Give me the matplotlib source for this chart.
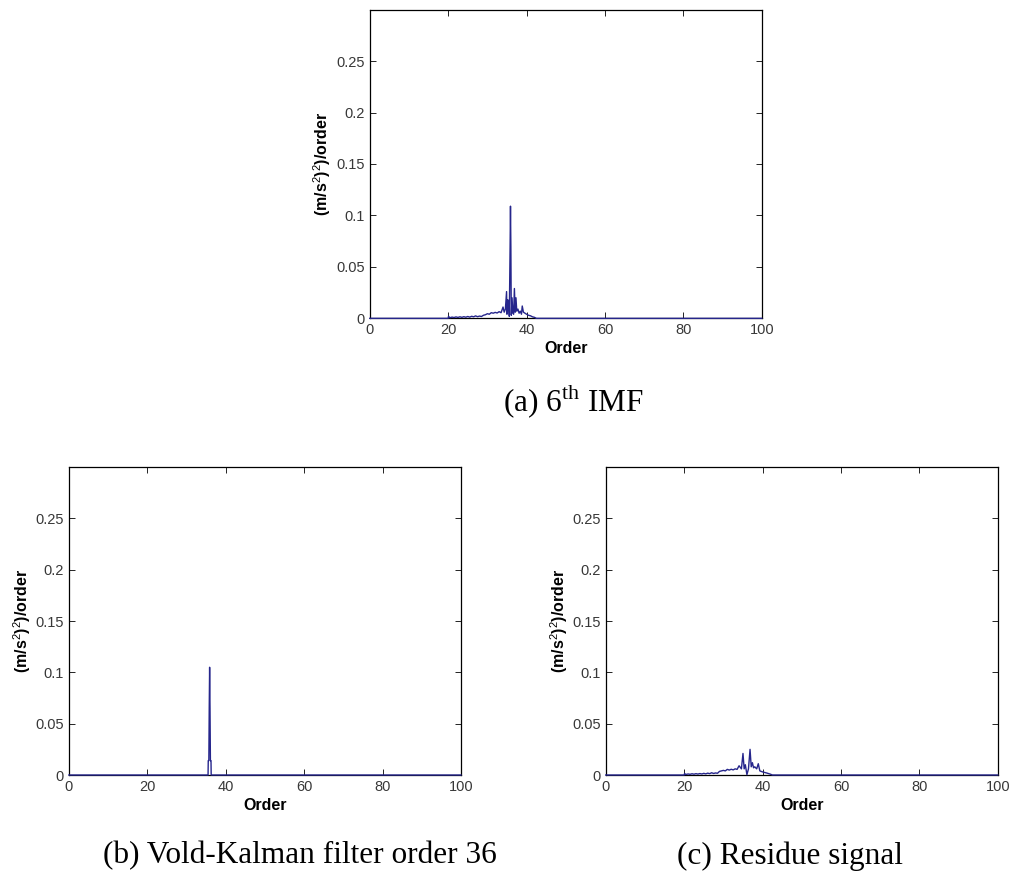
import numpy as np
import matplotlib
matplotlib.use("Agg")
from matplotlib import pyplot as plt

plt.rcParams['mathtext.fontset'] = 'custom'
plt.rcParams['mathtext.rm'] = 'Liberation Serif'
plt.rcParams['mathtext.sf'] = 'Liberation Sans'

# 6th IMF order spectrum
imf_order = [0, 20, 20.1, 20.4, 21, 21.5, 22, 22.5, 23, 23.5, 24, 24.5, 25, 25.5, 26, 26.5,
             27, 27.5, 28, 28.5, 29, 29.5, 30, 30.5, 31, 31.5, 32, 32.5, 33, 33.5, 34, 34.3,
             34.6, 34.9, 35.0, 35.2, 35.4, 35.6, 35.8, 35.9, 36.0, 36.1, 36.3, 36.5, 36.7, 36.9,
             37.1, 37.3, 37.5, 37.8, 38.1, 38.4, 38.7, 38.9, 39.2, 39.6, 40, 40.5, 41, 41.5,
             42, 42.5, 100]
imf_val = [0, 0, 0.002, 0.0006, 0.0012, 0.0008, 0.0014, 0.0009, 0.0015, 0.001, 0.0016, 0.0011,
           0.0018, 0.0012, 0.002, 0.0015, 0.0024, 0.0016, 0.0022, 0.0018, 0.003, 0.0035, 0.0045,
           0.004, 0.0055, 0.005, 0.0058, 0.0052, 0.0065, 0.0055, 0.011, 0.006, 0.009, 0.026,
           0.004, 0.018, 0.017, 0.002, 0.069, 0.109, 0.069, 0.003, 0.02, 0.005, 0.004, 0.029,
           0.006, 0.02, 0.007, 0.009, 0.005, 0.007, 0.004, 0.012, 0.006, 0.005, 0.004, 0.003,
           0.0025, 0.0015, 0.001, 0, 0]

# Vold-Kalman filter, order 36
vkf_order = [0, 35.5, 35.55, 35.7, 35.8, 35.9, 36.0, 36.1, 36.25, 36.3, 100]
vkf_val = [0, 0, 0.014, 0.014, 0.065, 0.105, 0.065, 0.014, 0.014, 0, 0]

# residue signal
res_order = [0, 20, 20.1, 20.4, 21, 21.5, 22, 22.5, 23, 23.5, 24, 24.5, 25, 25.5, 26, 26.5,
             27, 27.5, 28, 28.5, 29, 29.5, 30, 30.5, 31, 31.5, 32, 32.5, 33, 33.5, 34, 34.6,
             35.0, 35.3, 35.6, 36.0, 36.4, 36.8, 37.1, 37.4, 37.7, 38.0, 38.5, 38.9, 39.3,
             40, 41, 42, 42.5, 100]
res_val = [0, 0, 0.0015, 0.0005, 0.001, 0.0007, 0.0012, 0.0008, 0.0013, 0.0009, 0.0014, 0.001,
           0.0016, 0.0011, 0.0018, 0.0013, 0.0022, 0.0015, 0.002, 0.0017, 0.0035, 0.004, 0.0045,
           0.004, 0.0055, 0.0048, 0.0056, 0.005, 0.006, 0.0055, 0.009, 0.006, 0.021, 0.006,
           0.01, 0.0003, 0.006, 0.025, 0.008, 0.012, 0.007, 0.008, 0.006, 0.011, 0.004, 0.003,
           0.002, 0.0008, 0, 0]

xticks = [0, 20, 40, 60, 80, 100]
yticks = [0, 0.05, 0.1, 0.15, 0.2, 0.25]
ytick_labels = ['0', '0.05', '0.1', '0.15', '0.2', '0.25']

captions = [r'(a) 6$^{\mathrm{th}}$ IMF', '(b) Vold-Kalman filter order 36', '(c) Residue signal']

fig = plt.figure(figsize=(10.13, 8.77), dpi=100)
positions = [[0.365, 0.637, 0.387, 0.352],
             [0.068, 0.1163, 0.387, 0.351],
             [0.598, 0.1163, 0.387, 0.351]]
series = [(imf_order, imf_val), (vkf_order, vkf_val), (res_order, res_val)]

for pos, (xs, ys) in zip(positions, series):
    ax = fig.add_axes(pos)
    ax.plot(xs, ys, color='#26268c', lw=1.0, zorder=3, clip_on=False)
    ax.set_xlim(0, 100)
    ax.set_ylim(0, 0.3)
    ax.set_xticks(xticks)
    ax.set_xticklabels([str(t) for t in xticks])
    ax.set_yticks(yticks)
    ax.set_yticklabels(ytick_labels)
    ax.tick_params(direction='in', length=4, width=0.6, top=True, right=True,
                   labelsize=10.5, labelcolor='#383838', pad=3.5)
    for lab in ax.get_xticklabels() + ax.get_yticklabels():
        lab.set_family('Liberation Sans')
    for s in ax.spines.values():
        s.set_linewidth(0.9)
    ax.set_xlabel('Order', family='Liberation Sans', fontsize=11.5, fontweight='bold', labelpad=3)
    ax.set_ylabel(r'(m/s$^{\mathsf{2}}$)$^{\mathsf{2}}$)/order', family='Liberation Sans',
                  fontsize=11.5, fontweight='bold', labelpad=2)

fig.text(0.566, 0.543, captions[0], family='Liberation Serif', fontsize=22.5, ha='center', va='center')
fig.text(0.296, 0.024, captions[1], family='Liberation Serif', fontsize=22.5, ha='center', va='center')
fig.text(0.78, 0.024, captions[2], family='Liberation Serif', fontsize=22.5, ha='center', va='center')

fig.savefig('out.png', dpi=100)
